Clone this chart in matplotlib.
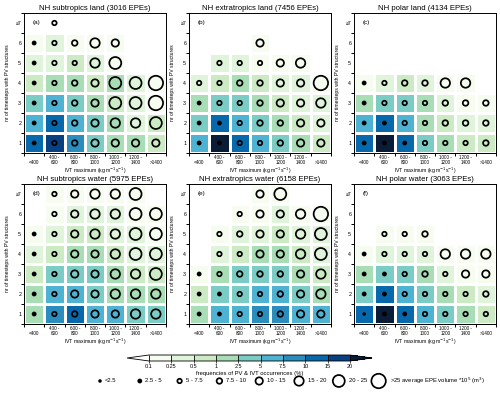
import numpy as np
import matplotlib
matplotlib.use('Agg')
import matplotlib.pyplot as plt
from matplotlib.colors import ListedColormap, BoundaryNorm

plt.rcParams['font.family'] = ['Liberation Sans', 'DejaVu Sans']

nan = np.nan

# ── categories ───────────────────────────────────────────────────────────────
IVT_LABELS = ['\n<400', '400 -\n600', '600 -\n800', '800 -\n1000',
              '1000 -\n1200', '1200 -\n1400', '\n>1400']
NR_LABELS = ['1', '2', '3', '4', '5', '6', '\u22657']

FREQ_BOUNDS = [0.1, 0.25, 0.5, 1, 2.5, 5, 7.5, 10, 15, 20]
FREQ_TICKLABELS = ['0.1', '0.25', '0.5', '1', '2.5', '5', '7.5', '10', '15', '20']
VOL_BOUNDS = [2.5, 5, 7.5, 10, 15, 20, 25]
VOL_LABELS = ['<2.5', '2.5 - 5', '5 - 7.5', '7.5 - 10', '10 - 15', '15 - 20',
              '20 - 25', '>25 average EPE volume *10$^5$ (m$^3$)']
VOL_SAMPLES = [2, 4, 6, 9, 12, 17, 22, 28]

TITLES = ['NH subtropics land (3016 EPEs)', 'NH extratropics land (7456 EPEs)',
          'NH polar land (4134 EPEs)', 'NH subtropics water (5975 EPEs)',
          'NH extratropics water (6158 EPEs)', 'NH polar water (3063 EPEs)']
LETTERS = ['(a)', '(b)', '(c)', '(d)', '(e)', '(f)']

# ── data: rows listed from >=7 (top) down to 1 (bottom) ─────────────────────
# frequency of PV & IVT occurrences (%)
freq_a = [[nan, 0.05, nan, nan, nan, nan, nan],
          [0.15, 0.35, 0.15, 0.15, 0.15, nan, nan],
          [0.35, 0.35, 0.7, 0.35, 0.15, nan, nan],
          [0.7, 1.7, 1.7, 0.7, 1.7, 0.35, 0.15],
          [3.5, 6, 3.5, 1.7, 0.7, 0.35, 0.15],
          [6, 12, 6, 3.5, 1.7, 0.35, 0.7],
          [12, 17, 8.5, 3.5, 1.7, 1.7, 0.7]]
freq_b = [[nan, nan, nan, nan, nan, nan, nan],
          [nan, nan, nan, 0.15, nan, nan, nan],
          [nan, 0.35, 0.35, 0.15, 0.15, 0.15, nan],
          [0.35, 0.7, 1.7, 0.7, 0.35, 0.35, 0.15],
          [1.7, 3.5, 3.5, 1.7, 0.7, 0.35, 0.35],
          [3.5, 12, 6, 3.5, 1.7, 0.7, 0.35],
          [6, 25, 12, 6, 3.5, 1.7, 0.7]]
freq_c = [[nan, nan, nan, nan, nan, nan, nan],
          [nan, nan, nan, nan, nan, nan, nan],
          [nan, nan, nan, nan, nan, nan, nan],
          [0.15, 0.35, 0.7, 0.35, 0.15, 0.15, nan],
          [1.7, 3.5, 3.5, 1.7, 0.35, 0.15, 0.15],
          [6, 12, 6, 1.7, 0.7, 0.35, 0.35],
          [12, 25, 12, 3.5, 1.7, 0.7, 0.7]]
freq_d = [[nan, 0.15, 0.15, 0.15, 0.15, 0.15, nan],
          [nan, 0.15, 0.35, 0.35, 0.35, 0.15, 0.15],
          [0.15, 0.35, 0.7, 0.7, 0.35, 0.35, 0.15],
          [0.35, 0.7, 1.7, 1.7, 0.7, 0.35, 0.35],
          [0.7, 3.5, 3.5, 3.5, 1.7, 0.7, 0.7],
          [1.7, 6, 6, 3.5, 1.7, 1.7, 1.7],
          [1.7, 8.5, 12, 6, 6, 3.5, 3.5]]
freq_e = [[nan, nan, nan, 0.15, 0.15, nan, nan],
          [nan, nan, 0.15, 0.15, 0.35, 0.15, 0.15],
          [nan, 0.15, 0.35, 0.35, 0.7, 0.35, 0.35],
          [nan, 0.35, 0.7, 1.7, 1.7, 0.7, 0.35],
          [0.15, 1.7, 3.5, 3.5, 3.5, 1.7, 0.7],
          [0.7, 3.5, 3.5, 6, 6, 3.5, 1.7],
          [1.7, 6, 6, 8.5, 8.5, 6, 6]]
freq_f = [[nan, nan, nan, nan, nan, nan, nan],
          [nan, nan, nan, nan, nan, nan, nan],
          [nan, 0.15, 0.15, 0.15, nan, nan, nan],
          [0.15, 0.35, 0.35, 0.35, 0.15, 0.15, 0.15],
          [1.7, 3.5, 3.5, 1.7, 0.35, 0.15, 0.15],
          [3.5, 12, 6, 3.5, 1.7, 0.7, 0.35],
          [12, 25, 12, 6, 3.5, 1.7, 0.7]]

# average EPE volume (*10^5 m^3)
vol_a = [[nan, 6, nan, nan, nan, nan, nan],
         [4, 6, 9, 17, 12, nan, nan],
         [4, 6, 6, 17, 22, nan, nan],
         [4, 6, 9, 12, 22, 22, 28],
         [4, 6, 9, 12, 22, 22, 28],
         [4, 6, 9, 12, 17, 17, 22],
         [4, 6, 9, 12, 12, 12, 12]]
vol_b = [[nan, nan, nan, nan, nan, nan, nan],
         [nan, nan, nan, 12, nan, nan, nan],
         [nan, 6, 6, 6, 12, 17, nan],
         [6, 6, 9, 9, 12, 12, 28],
         [4, 6, 6, 9, 12, 12, 17],
         [4, 4, 6, 9, 9, 12, 12],
         [4, 4, 6, 6, 9, 12, 12]]
vol_c = [[nan, nan, nan, nan, nan, nan, nan],
         [nan, nan, nan, nan, nan, nan, nan],
         [nan, nan, nan, nan, nan, nan, nan],
         [4, 6, 9, 9, 17, 17, nan],
         [4, 6, 6, 6, 9, 9, 9],
         [4, 4, 6, 6, 9, 9, 9],
         [4, 4, 4, 6, 6, 6, 9]]
vol_d = [[nan, 6, 12, 17, 17, 22, nan],
         [nan, 6, 12, 17, 17, 22, 22],
         [4, 6, 12, 17, 17, 22, 22],
         [4, 6, 12, 12, 17, 22, 22],
         [4, 6, 12, 12, 17, 17, 22],
         [4, 6, 12, 12, 17, 17, 17],
         [4, 6, 9, 12, 12, 17, 17]]
vol_e = [[nan, nan, nan, 12, 22, nan, nan],
         [nan, nan, 6, 12, 12, 17, 28],
         [nan, 6, 9, 12, 12, 17, 22],
         [nan, 6, 6, 12, 12, 17, 22],
         [4, 6, 9, 9, 9, 12, 17],
         [4, 4, 6, 6, 9, 12, 17],
         [4, 4, 6, 6, 9, 12, 12]]
vol_f = [[nan, nan, nan, nan, nan, nan, nan],
         [nan, nan, nan, nan, nan, nan, nan],
         [nan, 6, 6, 9, nan, nan, nan],
         [4, 6, 6, 6, 17, 17, 17],
         [4, 4, 6, 9, 6, 12, 12],
         [4, 4, 6, 6, 6, 6, 9],
         [2, 4, 4, 6, 6, 6, 6]]

FREQS = [freq_a, freq_b, freq_c, freq_d, freq_e, freq_f]
VOLS = [vol_a, vol_b, vol_c, vol_d, vol_e, vol_f]

# ── style ────────────────────────────────────────────────────────────────────
FREQ_COLORS = ['#f7fcf0', '#e0f3db', '#ccebc5', '#a8ddb5', '#7bccc4',
               '#4eb3d3', '#2b8cbe', '#0868ac', '#084081']
cmap = ListedColormap(FREQ_COLORS)
cmap.set_under('white')
cmap.set_over('#0b1c36')
norm = BoundaryNorm(FREQ_BOUNDS, cmap.N)

# ring diameter (points) for each volume class; the two smallest are dots
RING_SIZES = np.array([1.3, 2.2, 3.2, 4.0, 5.3, 6.8, 8.6, 10.4])
RING_FILL = ['black', 'black'] + ['none'] * 6
RING_LW = 1.25

W, H = 500, 393
fig = plt.figure(figsize=(W / 100, H / 100), dpi=100)

col_left = [24, 189, 354]
row_top = [13, 184]
ax_w, ax_h = 142, 140


def ring_class(v):
    return np.digitize(v, VOL_BOUNDS)


def draw_rings(ax, x, y, v):
    cls = ring_class(np.asarray(v))
    ax.scatter(x, y, s=RING_SIZES[cls] ** 2,
               facecolors=[RING_FILL[c] for c in cls], edgecolors='black',
               linewidths=RING_LW, zorder=3)


for k in range(6):
    r, c = divmod(k, 3)
    x0 = col_left[c]
    y0 = row_top[r]
    ax = fig.add_axes([x0 / W, 1 - (y0 + ax_h) / H, ax_w / W, ax_h / H])

    freq = np.ma.masked_invalid(np.flipud(np.array(FREQS[k], dtype=float)))
    vol = np.flipud(np.array(VOLS[k], dtype=float))
    edges = np.arange(8) - 0.5
    mesh = ax.pcolormesh(edges, edges, freq, cmap=cmap, norm=norm,
                         edgecolors='white', linewidth=0.9)

    yy, xx = np.nonzero(~np.isnan(vol))
    draw_rings(ax, xx, yy, vol[yy, xx])

    ax.set_xlim(-0.5, 6.5)
    ax.set_ylim(-0.5, 6.5)
    ax.set_xticks(edges)
    ax.set_xticklabels([])
    ax.set_yticks(edges)
    ax.set_yticklabels([])
    ax.set_xticks(np.arange(7), minor=True)
    ax.set_xticklabels(IVT_LABELS, minor=True, fontsize=3.3, linespacing=1.0)
    ax.set_yticks(np.arange(7), minor=True)
    ax.set_yticklabels(NR_LABELS, minor=True, fontsize=3.8)
    ax.tick_params(which='major', length=2.5, width=0.7, direction='out')
    ax.tick_params(axis='y', which='minor', length=0, pad=2)
    ax.tick_params(axis='x', which='minor', length=0, pad=1.5)
    for sp in ax.spines.values():
        sp.set_linewidth(0.7)

    ax.set_xlabel('IVT maximum (kg m$^{-1}$s$^{-1}$)', fontsize=3.7, labelpad=0.5)
    ax.set_ylabel('nr of timesteps with PV structures', fontsize=3.7, labelpad=4)
    ax.set_title(TITLES[k], fontsize=5.6, pad=2)
    ax.text(0.06, 0.95, LETTERS[k], transform=ax.transAxes, fontsize=4.6,
            ha='left', va='top')

# ── colorbar ─────────────────────────────────────────────────────────────────
cax = fig.add_axes([127 / W, 1 - 361 / H, 245 / W, 6 / H])
cb = fig.colorbar(mesh, cax=cax, orientation='horizontal', extend='both',
                  extendfrac=0.11, spacing='uniform', drawedges=True,
                  ticks=FREQ_BOUNDS)
cb.ax.set_xticklabels(FREQ_TICKLABELS)
cb.ax.tick_params(labelsize=4, length=1.5, width=0.5, pad=1)
cb.outline.set_linewidth(0.6)
cb.dividers.set_linewidth(0.6)
cb.set_label('frequencies of PV & IVT occurrences (%)', fontsize=4.2, labelpad=1)

# ── size legend ──────────────────────────────────────────────────────────────
lax = fig.add_axes([0, 0, 1, 30 / H])
lax.set_xlim(0, W)
lax.set_ylim(0, 30)
lax.axis('off')
slot_x = 100 + 39.8 * np.arange(len(VOL_SAMPLES))
draw_rings(lax, slot_x, np.full(len(slot_x), 12), VOL_SAMPLES)
for i, lab in enumerate(VOL_LABELS):
    half = 0.5 * RING_SIZES[ring_class(VOL_SAMPLES[i])] * 100 / 72
    lax.text(slot_x[i] + half + 4, 12, lab, fontsize=4.2, ha='left', va='center')

fig.savefig('out.png', dpi=100)
